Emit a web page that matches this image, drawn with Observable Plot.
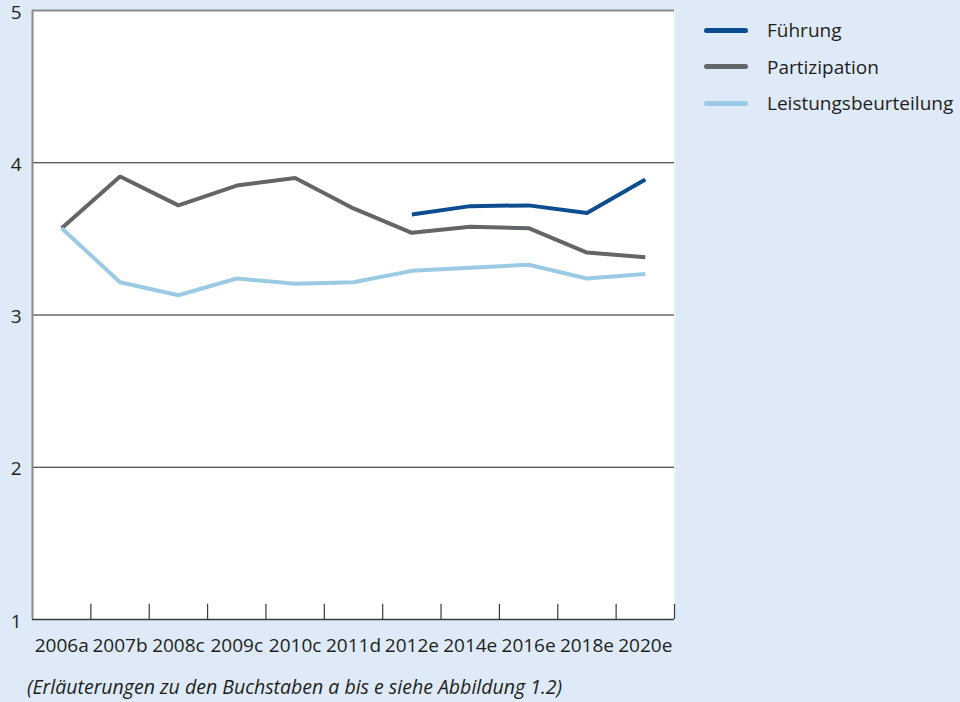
<!DOCTYPE html>
<html>
<head>
<meta charset="utf-8">
<script src="https://cdn.jsdelivr.net/npm/d3@7"></script>
<script src="https://cdn.jsdelivr.net/npm/@observablehq/plot@0.6"></script>
<style>
  html, body { margin: 0; padding: 0; }
  body { background: #deeaf7; }
  #wrap { position: relative; width: 960px; height: 702px; background: #deeaf7; font-family: "Open Sans", sans-serif; color: #231f20; }
  #chart { position: absolute; left: 0; top: 0; }
  #legend { position: absolute; left: 700px; top: 12px; }
  .item { display: flex; align-items: center; height: 36.5px; }
  .swatch { width: 44px; height: 5px; border-radius: 3px; margin-left: 4px; margin-right: 19px; }
  .label { font-size: 19px; }
  #caption { position: absolute; left: 27px; top: 673px; font-size: 19.5px; font-style: italic; }
</style>
</head>
<body>
<div id="wrap">
  <div id="chart"></div>
  <div id="legend"></div>
  <div id="caption">(Erläuterungen zu den Buchstaben a bis e siehe Abbildung 1.2)</div>
</div>
<script>
const years = ["2006a","2007b","2008c","2009c","2010c","2011d","2012e","2014e","2016e","2018e","2020e"];
const seriesNames = ["Führung","Partizipation","Leistungsbeurteilung"];
const seriesColors = ["#0b4d8e","#646567","#9bcbe4"];
const fuehrung = [null,null,null,null,null,null,3.66,3.715,3.72,3.67,3.89];
const partizipation = [3.57,3.91,3.72,3.85,3.90,3.70,3.54,3.58,3.57,3.41,3.38];
const leistung = [3.57,3.215,3.13,3.24,3.205,3.215,3.29,3.31,3.33,3.24,3.27];
const yTicks = [1,2,3,4,5];
const gridValues = [2,3,4];

const seriesValues = [fuehrung, partizipation, leistung];
const data = [];
seriesValues.forEach((vals, s) => {
  vals.forEach((v, i) => {
    if (v != null) data.push({series: seriesNames[s], i, v});
  });
});
const idx = d3.range(years.length);
const boundaries = d3.range(years.length + 1).map(k => k - 0.5);

const chart = Plot.plot({
  width: 700,
  height: 665,
  marginLeft: 32,
  marginRight: 26,
  marginTop: 10,
  marginBottom: 46,
  style: {background: "transparent", fontFamily: "'Open Sans', sans-serif", color: "#231f20", overflow: "visible"},
  x: {type: "linear", domain: [-0.5, years.length - 0.5]},
  y: {domain: [1, 5]},
  color: {domain: seriesNames, range: seriesColors},
  marks: [
    Plot.frame({fill: "white", stroke: null}),
    Plot.ruleY(gridValues, {stroke: "#231f20", strokeWidth: 1}),
    Plot.ruleY([5], {stroke: "#8a8a8c", strokeWidth: 2}),
    Plot.ruleX([boundaries[0]], {y1: 1, y2: 5, stroke: "#8a8a8c", strokeWidth: 2}),
    Plot.ruleY([1], {stroke: "#3a3a3c", strokeWidth: 1.5}),
    Plot.ruleX(boundaries.slice(1), {y1: 1, y2: 1.1, stroke: "#3a3a3c", strokeWidth: 1.2}),
    Plot.line(data, {x: "i", y: "v", z: "series", stroke: "series", strokeWidth: 4, strokeLinejoin: "miter", strokeLinecap: "butt"}),
    Plot.axisY(yTicks, {tickSize: 0, tickPadding: 11, fontSize: 19, dy: 2, tickFormat: d => String(d), label: null}),
    Plot.axisX(idx, {tickSize: 0, tickPadding: 19, fontSize: 19, tickFormat: i => years[i], label: null})
  ]
});
document.getElementById("chart").appendChild(chart);

const legend = document.getElementById("legend");
seriesNames.forEach((name, k) => {
  const item = document.createElement("div");
  item.className = "item";
  const sw = document.createElement("div");
  sw.className = "swatch";
  sw.style.background = seriesColors[k];
  const lab = document.createElement("div");
  lab.className = "label";
  lab.textContent = name;
  item.appendChild(sw);
  item.appendChild(lab);
  legend.appendChild(item);
});
</script>
</body>
</html>
